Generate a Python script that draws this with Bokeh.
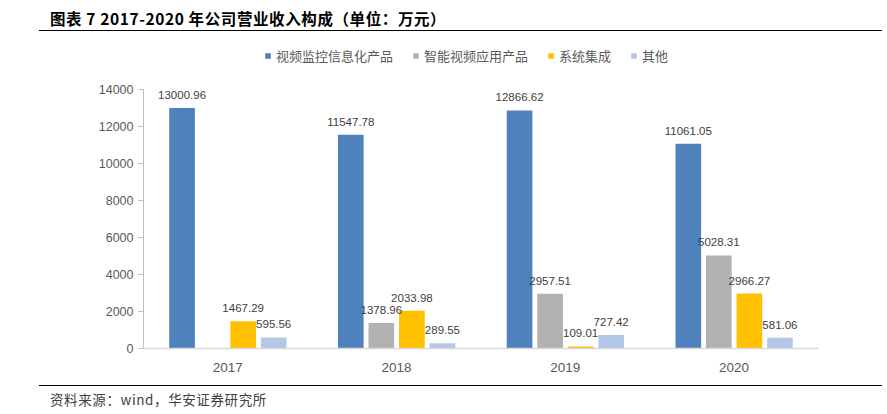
from bokeh.plotting import figure
from bokeh.models import (ColumnDataSource, FactorRange, Legend, LegendItem, LabelSet,
                          FixedTicker, Div, Range1d)
from bokeh.layouts import column
from bokeh.transform import dodge
from bokeh.core.properties import value
from bokeh.embed import file_html
from bokeh.resources import INLINE

years = ["2017", "2018", "2019", "2020"]
video_info = [13000.96, 11547.78, 12866.62, 11061.05]
smart_video = [None, 1378.96, 2957.51, 5028.31]
system_int = [1467.29, 2033.98, 109.01, 2966.27]
others = [595.56, 289.55, 727.42, 581.06]
series_names = ["视频监控信息化产品", "智能视频应用产品", "系统集成", "其他"]
y_ticks = [0, 2000, 4000, 6000, 8000, 10000, 12000, 14000]

title_text = "图表 7 2017-2020 年公司营业收入构成（单位：万元）"
source_text = "资料来源：wind，华安证券研究所"

colors = ["#4F81BD", "#B2B2B2", "#FFC000", "#B4C7E7"]
offsets = [-0.2715, -0.0905, 0.0905, 0.2715]
bar_w = 0.152

cjk = "Noto Sans CJK SC"
latin = "Liberation Sans"

W = 884
FIG_H = 345          # figure spans page y 33..378
PLOT_H_PX = 315      # frame height (page y 33..348)
AXIS_PX = 259        # pixels from 0 to 14000
y_end = y_ticks[-1] * PLOT_H_PX / AXIS_PX

p = figure(x_range=FactorRange(*years, range_padding=0), y_range=Range1d(0, y_end),
           width=W, height=FIG_H, output_backend="svg", toolbar_location=None,
           min_border_left=143, min_border_right=W - 818, min_border_top=0,
           min_border_bottom=FIG_H - PLOT_H_PX)
p.margin = 0
p.outline_line_color = None
p.xgrid.visible = False
p.ygrid.visible = False

all_series = [video_info, smart_video, system_int, others]
items = []
for vals, name, col, off in zip(all_series, series_names, colors, offsets):
    tops = [float("nan") if v is None else v for v in vals]
    src = ColumnDataSource(dict(x=years, top=tops))
    r = p.vbar(x=dodge("x", off, range=p.x_range), top="top", width=bar_w, source=src,
               fill_color=col, line_color=None)
    items.append(LegendItem(label=name, renderers=[r]))
    lx = [y for y, v in zip(years, vals) if v is not None]
    lv = [v for v in vals if v is not None]
    lsrc = ColumnDataSource(dict(x=lx, y=lv, t=["%.2f" % v for v in lv]))
    p.add_layout(LabelSet(x=dodge("x", off, range=p.x_range), y="y", text="t", source=lsrc,
                          y_offset=13, text_align="center", text_baseline="middle",
                          text_font=value(latin), text_font_size="11.5px",
                          text_color="#404040"))

legend = Legend(items=items, orientation="horizontal", location=(121, 283),
                glyph_width=7, glyph_height=7, label_standoff=5, spacing=19, padding=0,
                margin=0, border_line_color=None, background_fill_alpha=0,
                label_text_font=cjk, label_text_font_size="13px", label_text_color="#595959",
                label_height=16)
p.add_layout(legend, "center")

# axes
p.yaxis.ticker = FixedTicker(ticks=y_ticks)
p.yaxis.bounds = (y_ticks[0], y_ticks[-1])
p.yaxis.axis_line_color = "#BFBFBF"
p.yaxis.major_tick_line_color = "#BFBFBF"
p.yaxis.major_tick_out = 5
p.yaxis.major_tick_in = 0
p.yaxis.minor_tick_line_color = None
p.yaxis.major_label_standoff = 5
p.yaxis.major_label_text_font = latin
p.yaxis.major_label_text_font_size = "12.5px"
p.yaxis.major_label_text_color = "#595959"

p.xaxis.axis_line_color = "#D9D9D9"
p.xaxis.axis_line_width = 1.5
p.xaxis.major_tick_line_color = None
p.xaxis.minor_tick_line_color = None
p.xaxis.major_label_standoff = 8
p.xaxis.major_label_text_font = latin
p.xaxis.major_label_text_font_size = "13.5px"
p.xaxis.major_label_text_color = "#595959"

title_html = (
    '<div style="position:relative;width:843px;height:31px;margin-left:39px;'
    'border-bottom:1.5px solid #000;">'
    '<span style="position:absolute;left:11px;top:8px;font-family:\'Noto Sans CJK SC\';'
    'font-weight:bold;font-size:15.5px;letter-spacing:0.6px;line-height:21px;color:#000;'
    'white-space:nowrap;">' + title_text + '</span></div>')
footer_html = (
    '<div style="position:relative;width:843px;height:22px;margin-left:39px;margin-top:7px;'
    'border-top:1.3px solid #000;">'
    '<span style="position:absolute;left:11px;top:4px;font-family:\'Noto Sans CJK SC\';'
    'font-size:13.5px;letter-spacing:0.6px;line-height:18px;color:#404040;'
    'white-space:nowrap;">' + source_text + '</span></div>')

title_div = Div(text=title_html, width=W, height=33, margin=0)
footer_div = Div(text=footer_html, width=W, height=32, margin=0)

layout = column(title_div, p, footer_div, spacing=0, margin=0)
open("out.html", "w").write(file_html(layout, INLINE))
